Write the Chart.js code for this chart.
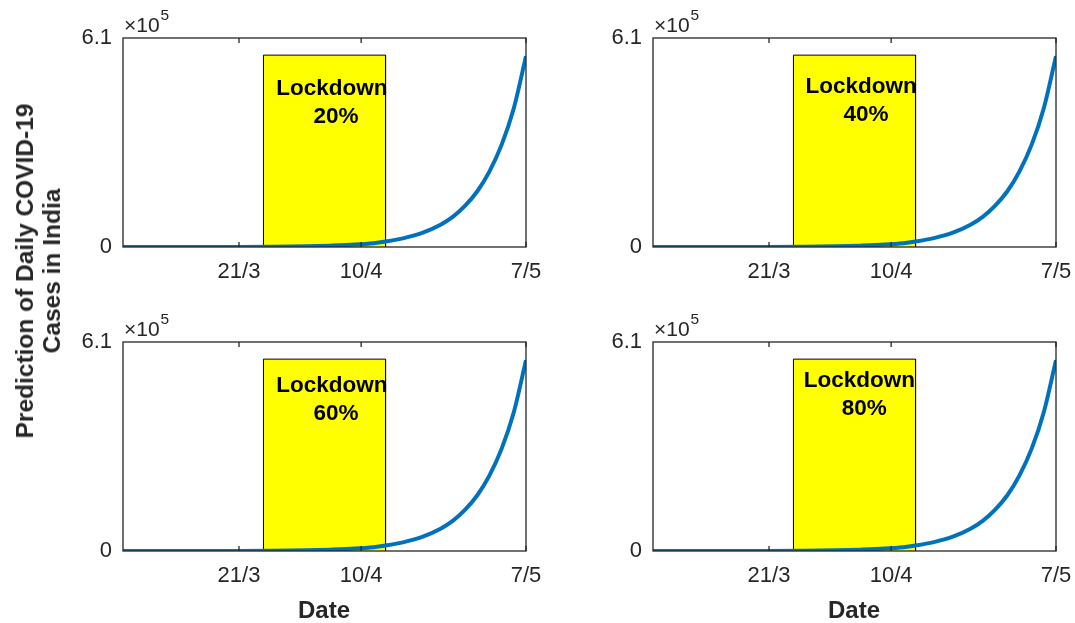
<!DOCTYPE html>
<html>
<head>
<meta charset="utf-8">
<script src="https://cdn.jsdelivr.net/npm/chart.js@4/dist/chart.umd.min.js"></script>
<style>
  body{margin:0;background:#fff;width:1075px;height:623px;overflow:hidden;position:relative;font-family:"Liberation Sans",Arial,sans-serif;}
  .panel{position:absolute;width:500px;height:300px;}
  .xtitle{position:absolute;font-weight:bold;font-size:24px;color:#262626;transform:translate(-50%,-50%);white-space:nowrap;}
  .ytitle{position:absolute;left:38px;top:271px;font-weight:bold;font-size:24.5px;line-height:27px;color:#262626;text-align:center;white-space:nowrap;transform:translate(-50%,-50%) rotate(-90deg);}
</style>
</head>
<body>
<div class="panel" style="left:60px;top:0px"><canvas id="ch-20" width="500" height="300"></canvas></div>
<div class="panel" style="left:590px;top:0px"><canvas id="ch-40" width="500" height="300"></canvas></div>
<div class="panel" style="left:60px;top:304px"><canvas id="ch-60" width="500" height="300"></canvas></div>
<div class="panel" style="left:590px;top:304px"><canvas id="ch-80" width="500" height="300"></canvas></div>
<div class="xtitle" style="left:324px;top:610px">Date</div>
<div class="xtitle" style="left:854px;top:610px">Date</div>
<div class="ytitle">Prediction of Daily COVID-19<br>Cases in India</div>
<script>
/* ---------- datos ---------- */
// eje x: días desde el 2/3
const days=[0,6,12,18,24,30,34,38,41,43,46,49,52,54,56,58,60,62,64,66];
const cases=[0,100,100,300,800,2000,4000,7000,11000,16000,26000,41000,65000,88000,120000,162000,220000,298000,405000,557000];
const tickDays=[19,39,66];
const tickLabels=['21/3','10/4','7/5'];
const yTicks=[0,610000];
const lockDays=[23,23,43,43];          // 25/3 -> 14/4
const lockCases=[0,560000,560000,0];
const levels=['20%','40%','60%','80%'];

const FONT='"Liberation Sans", Arial, sans-serif';
const INK='#262626';
// posición del texto "Lockdown / xx%" (coordenadas de datos)
const LABEL_POS={
  '20%':{x1:34.2,y1:461000,x2:34.9,y2:379000},
  '40%':{x1:34.1,y1:469000,x2:34.9,y2:385000},
  '60%':{x1:34.2,y1:483000,x2:34.9,y2:399000},
  '80%':{x1:33.8,y1:497000,x2:34.6,y2:416000}
};

const frame={
  id:'frame',
  afterDatasetsDraw(chart){
    const {ctx,scales:{x,y}}=chart;
    const lvl=chart.options.plugins.frame.level;
    const p=LABEL_POS[lvl];
    ctx.save();
    ctx.fillStyle='#000';
    ctx.font='bold 22.5px '+FONT;
    ctx.textAlign='center';ctx.textBaseline='middle';
    ctx.fillText('Lockdown',x.getPixelForValue(p.x1),y.getPixelForValue(p.y1));
    ctx.fillText(lvl,x.getPixelForValue(p.x2),y.getPixelForValue(p.y2));
    ctx.restore();
  },
  afterDraw(chart){
    const {ctx,chartArea:a,scales:{x}}=chart;
    ctx.save();
    ctx.strokeStyle=INK;ctx.lineWidth=1.3;
    ctx.strokeRect(a.left,a.top,a.right-a.left,a.bottom-a.top);
    ctx.beginPath();
    tickDays.forEach(d=>{
      const px=x.getPixelForValue(d);
      ctx.moveTo(px,a.top);ctx.lineTo(px,a.top+5);
      ctx.moveTo(px,a.bottom);ctx.lineTo(px,a.bottom-5);
    });
    ctx.stroke();
    // multiplicador x10^5
    ctx.fillStyle=INK;ctx.textAlign='left';ctx.textBaseline='alphabetic';
    ctx.font='21px '+FONT;
    ctx.fillText('×10',a.left+1,a.top-6);
    const w=ctx.measureText('×10').width;
    ctx.font='15.5px '+FONT;
    ctx.fillText('5',a.left+2+w,a.top-18);
    ctx.restore();
  }
};

function makePanel(id,level){
  return new Chart(document.getElementById(id),{
    type:'line',
    data:{datasets:[
      {data:days.map((d,i)=>({x:d,y:cases[i]})),borderColor:'#0072BD',borderWidth:4,pointRadius:0,cubicInterpolationMode:'monotone',fill:false,order:0},
      {data:lockDays.map((d,i)=>({x:d,y:lockCases[i]})),borderColor:'#000',borderWidth:1,backgroundColor:'#FFFF00',pointRadius:0,tension:0,fill:'origin',order:1}
    ]},
    options:{
      responsive:false,animation:false,events:[],
      layout:{padding:{top:38,right:34,left:0,bottom:0}},
      plugins:{legend:{display:false},tooltip:{enabled:false},frame:{level}},
      scales:{
        x:{type:'linear',min:0,max:66,
          afterBuildTicks:s=>{s.ticks=tickDays.map(v=>({value:v}));},
          afterFit:s=>{s.height=53;},
          grid:{display:false,drawTicks:false},border:{display:false},
          ticks:{color:INK,font:{family:FONT,size:22},padding:12,maxRotation:0,autoSkip:false,
            callback:v=>tickLabels[tickDays.indexOf(v)]}},
        y:{type:'linear',min:0,max:610000,
          afterBuildTicks:s=>{s.ticks=yTicks.map(v=>({value:v}));},
          afterFit:s=>{s.width=63;},
          grid:{display:false,drawTicks:false},border:{display:false},
          ticks:{color:INK,font:{family:FONT,size:22},padding:11,
            callback:v=>v===0?'0':(v/1e5).toFixed(1)}}
      }
    },
    plugins:[frame]
  });
}

makePanel('ch-20',levels[0]);
makePanel('ch-40',levels[1]);
makePanel('ch-60',levels[2]);
makePanel('ch-80',levels[3]);
</script>
</body>
</html>
